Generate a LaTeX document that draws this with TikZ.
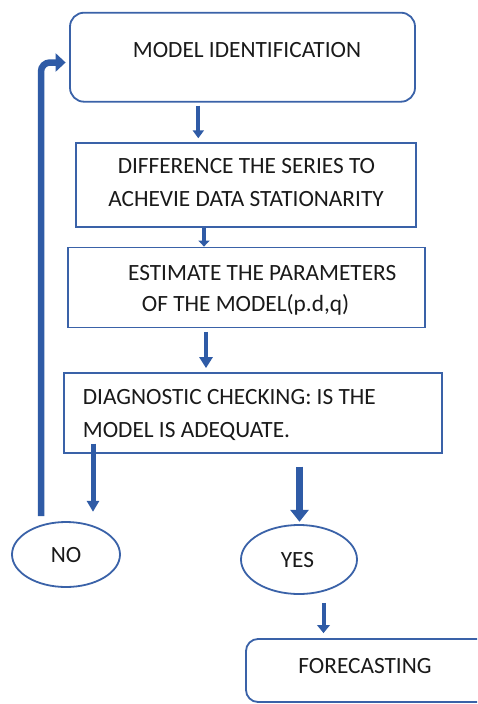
\documentclass[tikz,border=0pt]{standalone}
\usepackage{fontspec}
\setmainfont{Carlito}
\usetikzlibrary{arrows.meta,shapes.geometric}
\definecolor{bblue}{HTML}{3A62A8}
\definecolor{ablue}{HTML}{2F5BA6}
\definecolor{txt}{HTML}{1A1A1A}
\begin{document}
\begin{tikzpicture}[x=1pt,y=-1pt,
  box/.style={draw=bblue, line width=1.8pt, inner sep=0pt, fill=white},
  rbox/.style={box, rounded corners=14pt},
  oval/.style={ellipse, draw=bblue, line width=1.8pt, inner sep=0pt},
  lbl/.style={inner sep=0pt, text=txt, font=\fontsize{23.3}{28}\selectfont},
  arr/.style={draw=ablue}]
\clip (0,0) rectangle (477,704);
\fill[white] (0,0) rectangle (477,704);
% boxes
\node[rbox, minimum width=345pt, minimum height=89pt] (b1) at (242.5,57.2) {};
\node[box, minimum width=340pt, minimum height=84pt] (b2) at (246,184.7) {};
\node[box, minimum width=357pt, minimum height=80pt] (b3) at (246.7,287.5) {};
\node[box, minimum width=378pt, minimum height=80pt] (b4) at (253.2,412.7) {};
\node[oval, minimum width=108pt, minimum height=65pt] (no) at (66,554.5) {};
\node[oval, minimum width=116pt, minimum height=69pt] (yes) at (299,559.5) {};
\node[rbox, rounded corners=12pt, minimum width=300pt, minimum height=63pt] (fc) at (396,670.5) {};
% texts
\node[lbl, anchor=base] (t1) at (247,57) {MODEL IDENTIFICATION};
\node[lbl, anchor=base] (t2a) at (246.5,173) {DIFFERENCE THE SERIES TO};
\node[lbl, anchor=base] (t2b) at (246,206) {ACHEVIE DATA STATIONARITY};
\node[lbl, anchor=base west] (t3a) at (128,280) {ESTIMATE THE PARAMETERS};
\node[lbl, anchor=base west] (t3b) at (141.7,311.5) {OF THE MODEL(p.d,q)};
\node[lbl, anchor=base west] (t4a) at (82.7,404) {DIAGNOSTIC CHECKING: IS THE};
\node[lbl, anchor=base west] (t4b) at (82.7,437) {MODEL IS ADEQUATE.};
\node[lbl, anchor=base] (tno) at (66,562) {NO};
\node[lbl, anchor=base] (tyes) at (297.5,567) {YES};
\node[lbl, anchor=base] (tfc) at (365,673) {FORECASTING};
% x positions of connectors
\coordinate (xa) at (198.3,0);
\coordinate (xb) at (204,0);
\coordinate (xc) at (206,0);
\coordinate (xno) at (93,0);
\coordinate (xyes) at (299.5,0);
\coordinate (xfc) at (323.5,0);
\coordinate (xl) at (41,0);
% connectors
\draw[arr, line width=4pt, shorten <=3pt, shorten >=3.5pt, -{Triangle[width=11pt,length=8pt]}]
  (b1.south -| xa) -- (b2.north -| xa);
\draw[arr, line width=4pt, shorten <=0pt, shorten >=0pt, -{Triangle[width=11pt,length=6pt]}]
  (b2.south -| xb) -- (b3.north -| xb);
\draw[arr, line width=4.5pt, shorten <=3.4pt, shorten >=3.7pt, -{Triangle[width=13pt,length=11pt]}]
  (b3.south -| xc) -- (b4.north -| xc);
\draw[arr, line width=5pt, shorten <=-10pt, shorten >=9.3pt, -{Triangle[width=12pt,length=11pt]}]
  (b4.south -| xno) -- (no.north -| xno);
\draw[arr, line width=6.5pt, shorten <=13pt, shorten >=2.3pt, -{Triangle[width=18pt,length=12pt]}]
  (b4.south -| xyes) -- (yes.north -| xyes);
\draw[arr, line width=4pt, shorten <=8pt, shorten >=5pt, -{Triangle[width=12.5pt,length=8pt]}]
  (yes.south -| xfc) -- (fc.north -| xfc);
\draw[arr, line width=6.5pt, rounded corners=9pt, shorten <=5pt, shorten >=3.5pt, -{Triangle[width=18pt,length=10pt]}]
  (no.north -| xl) |- ([yshift=-5.3pt]b1.west);
\end{tikzpicture}
\end{document}
